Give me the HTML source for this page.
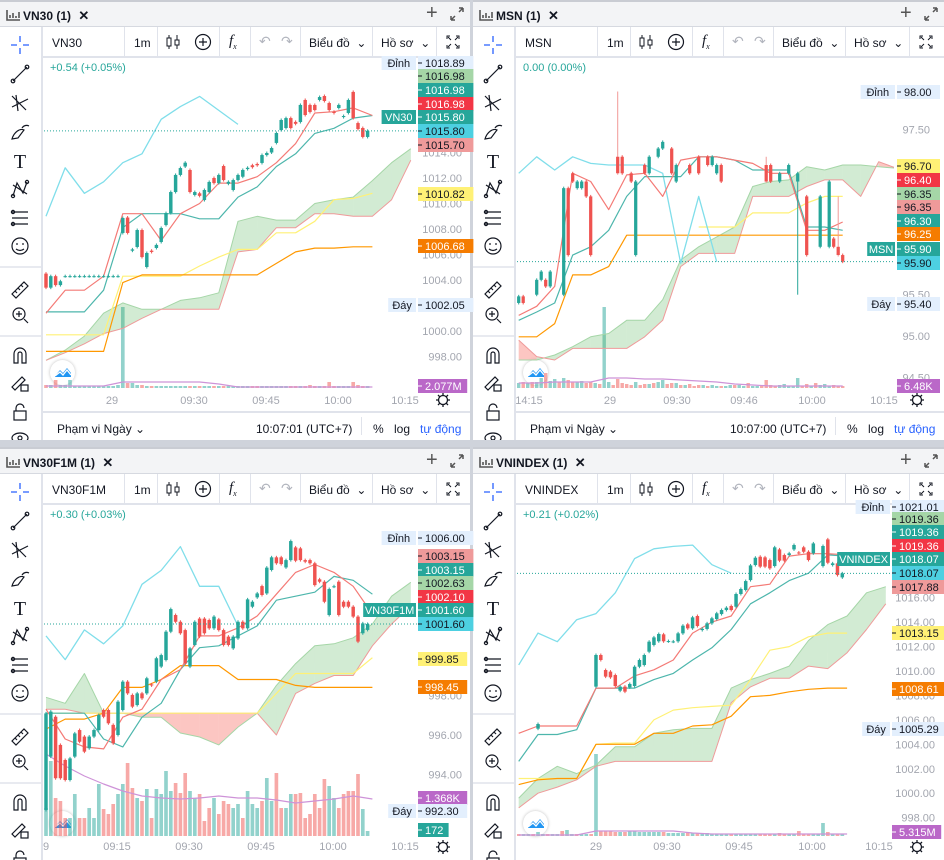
<!DOCTYPE html>
<html><head><meta charset="utf-8">
<style>
*{box-sizing:border-box}
body{margin:0;width:944px;height:860px;background:#cfd3db;position:relative;overflow:hidden;font-family:"Liberation Sans","Noto Sans CJK SC",sans-serif;color:#131722}
.panel{position:absolute;background:#fff;overflow:hidden}
.tb{position:absolute;left:0;top:0;right:0;height:27px;background:#f3f4f6;border-bottom:1px solid #d6d9e0;border-top:2px solid #c9ccd3}
.ttl{position:absolute;left:23px;top:6px;font-size:12px;font-weight:bold;white-space:nowrap}
.ltb{position:absolute;left:0;top:27px;width:43px;bottom:0;border-right:2px solid #e0e3eb}
.top{position:absolute;left:43px;top:27px;right:0;height:31px;border-bottom:2px solid #e0e3eb;font-size:12px}
.top span{position:absolute;top:9px;white-space:nowrap}
.sep{position:absolute;top:0;width:1px;height:30px;background:#e0e3eb}
.foot{position:absolute;left:43px;right:0;top:411px;height:29px;border-top:2px solid #e0e3eb;font-size:12px}
.foot span{position:absolute;top:9px;white-space:nowrap}
#charts{position:absolute;left:0;top:0}
</style></head><body>
<svg id="charts" width="944" height="860"></svg>
<script>
// ===================== DATA =====================
// VN30 (1m candles)
const vn30Open=[1004.5,1003.4,1004.3,1003.6,1004.3,1004.3,1004.3,1004.3,1004.3,1004.3,1004.3,1004.3,1004.3,1004.3,1004.3,1004.3,
1007.69,1008.9,1006.3,1006.59,1007.92,1005.02,1006.3,1006.51,1006.98,1008.31,1009.25,1010.9,1012.24,1012.9,1012.63,1010.67,1010.8,1010.27,1010.9,1012.0,1011.6,1012.94,1011.55,1011.06,1011.84,1012.1,1012.7,1013.0,1013.1,1013.18,1013.8,1014.0,1014.75,1015.76,1015.92,1016.7,1016.4,1016.39,1018.12,1017.73,1017.73,1018.12,1018.43,1017.88,1017.2,1017.49,1016.78,1017.1,1018.75,1016.31,1015.92,1015.22];
const vn30Close=[1003.4,1004.3,1003.6,1003.9,1004.3,1004.3,1004.3,1004.3,1004.3,1004.3,1004.3,1004.3,1004.3,1004.3,1004.3,1004.3,
1008.86,1007.69,1006.4,1007.92,1005.8,1006.12,1006.2,1006.75,1008.08,1009.25,1010.9,1012.24,1012.78,1013.2,1010.9,1010.9,1010.6,1011.06,1011.69,1011.6,1012.24,1011.84,1011.7,1011.84,1012.24,1012.63,1012.8,1012.85,1013.0,1013.8,1013.96,1014.35,1015.53,1016.55,1016.7,1015.92,1016.25,1017.73,1016.94,1017.18,1017.33,1018.35,1018.04,1017.33,1017.1,1017.73,1016.86,1018.12,1016.7,1015.84,1015.22,1015.7];
const vn30Vol=[3,3,8,3,3,8,2,2,2,2,2,2,2,2,2,3,81,5,5,3,3,2,2,2,2,2,2,2,2,2,2,2,2,2,2,2,2,2,2,2,2,2,2,2,2,2,2,2,2,2,2,2,2,2,2,3,2,2,2,6,2,2,2,2,6,3,2,2];
const vn30VolMA=[2,2,2,2,6,6,6,6,6,4,1,1,1,1,1,1,1,1];
const vn30Tenkan=[1001.4,1003.2,1003.2,1004.3,1009.2,1009.2,1007.1,1009.2,1010.0,1011.6,1011.6,1012.1,1013.2,1014.7,1017.1,1017.2,1017.5,1016.9];
const vn30Kijun=[1001.5,1001.5,1001.5,1003.2,1008.1,1009.2,1009.2,1009.2,1008.8,1008.8,1010.5,1011.3,1012.9,1013.9,1015.5,1015.9,1016.7,1016.9];
const vn30Chikou=[1009.0,1012.8,1010.8,1011.7,1013.2,1013.9,1016.6,1017.6,1018.4,1017.3,1016.2];
const vn30SpanA=[997.7,998.5,999.6,1001.4,1002.2,1001.7,1001.7,1002.4,1002.6,1003.0,1008.6,1009.0,1008.7,1008.7,1010.0,1010.3,1010.5,1011.8,1013.2,1014.3];
const vn30SpanB=[997.7,998.3,999.0,999.8,1000.2,1001.0,1001.7,1001.7,1001.7,1001.7,1006.2,1006.4,1008.1,1008.1,1009.2,1009.2,1009.0,1009.0,1010.3,1013.4];
const vn30Yellow=[999.7,999.7,999.7,999.7,1004.3,1004.3,1004.3,1004.3,1005.1,1005.8,1006.4,1006.4,1007.7,1007.7,1008.6,1010.3,1010.4,1010.8];
const vn30Orange=[998.4,998.4,998.4,998.4,1003.8,1004.4,1004.4,1004.4,1004.4,1004.4,1004.4,1004.4,1005.3,1006.2,1006.5,1006.5,1006.6,1006.6];
const vn30Ticks=[1014,1012,1010,1008,1006,1004,1000,998];
const vn30TimeLabels=['29','09:30','09:45','10:00','10:15'];

// MSN
const msnIdx=[0,1,4,5,6,7,10,11,12,13,14,15,16,22,23,25,26,28,29,31,32,34,35,38,40,42,43,44,45,55,56,58,60,62,64,67,69,70,71,72];
const msnOpen=[95.40,95.48,95.50,95.68,95.68,95.60,95.50,96.79,96.97,96.79,96.79,96.87,96.69,97.17,97.17,96.97,95.98,97.07,96.97,97.17,97.27,97.27,96.87,97.07,97.17,97.17,97.07,96.97,97.07,97.07,97.07,96.87,96.97,96.87,96.69,96.08,96.08,96.18,96.08,95.98];
const msnClose=[95.48,95.40,95.68,95.78,95.60,95.78,96.79,95.98,96.87,96.87,96.87,96.69,95.98,96.97,96.97,96.87,96.87,96.97,97.17,97.27,97.35,96.97,97.07,96.97,96.97,97.07,97.17,97.07,96.87,96.87,96.87,96.97,97.07,96.97,95.98,96.69,96.87,96.08,95.98,95.90];
const msnHigh=[null,null,null,null,null,null,null,null,null,null,null,null,null,97.96,null,null,null,null,null,null,null,null,null,null,null,null,null,null,null,97.17,null,null,null,null,null,null,null,null,96.69,null];
const msnLow=[null,null,null,null,null,null,null,null,null,null,null,null,null,null,null,null,null,null,null,null,null,null,null,null,null,null,null,null,null,null,null,null,null,95.50,null,null,null,null,null,null];
const msnVol=[5,6,5,6,6,10,15,7,9,6,10,8,6,6,7,5,6,5,4,81,6,3,9,5,4,3,6,3,4,4,5,6,8,4,5,5,3,3,4,2,3,3,2,3,2,2,2,3,3,3,2,5,2,2,3,8,3,2,3,4,2,2,10,2,4,2,5,3,4,2,3,2,2];
const msnVolMA=[5,5,6,6,6,10,10,9,9,8,7,6,4,3,2,2,2,2,2];
const msnTenkan=[95.25,95.36,95.60,96.97,96.87,96.53,96.95,96.97,96.69,97.13,97.17,97.17,97.13,97.09,96.97,96.97,96.28,96.28,96.38];
const msnKijun=[95.19,95.29,95.40,95.98,96.08,96.28,96.69,96.93,96.93,96.93,97.17,97.17,97.13,97.01,97.01,97.01,96.32,96.32,96.28];
const msnChikou=[96.97,97.17,97.01,97.17,97.09,97.07,97.07,97.07,96.97,95.88,96.69,95.90];
const msnSpanA=[94.71,94.71,94.77,94.87,94.99,95.03,95.19,95.19,95.44,95.92,96.08,96.20,96.32,96.81,96.87,96.89,97.05,97.01,97.07,97.07,97.05,97.03];
const msnSpanB=[94.95,94.75,94.71,94.85,94.85,94.85,94.85,94.99,95.19,95.84,96.00,96.00,96.00,96.69,96.69,96.69,96.81,96.89,96.89,96.69,97.11,97.03];
const msnYellow=[null,null,null,null,null,null,null,null,null,null,96.32,96.32,96.32,96.49,96.49,96.49,96.61,96.69,96.69];
const msnOrange=[94.99,94.99,95.15,95.74,95.74,95.84,96.22,96.22,96.22,96.22,96.22,96.22,96.22,96.22,96.22,96.22,96.22,96.22,96.22];
const msnTicks=[97.5,95.5,95.0,94.5];
const msnTimeLabels=['14:15','29','09:30','09:46','10:00','10:15'];

// VN30F1M
const f1mOpen=[992.22,994.91,996.92,995.50,994.74,993.73,994.91,996.25,995.92,995.33,995.92,996.25,997.26,997.26,996.51,996.00,997.26,998.69,998.02,997.51,998.10,998.10,998.55,998.69,999.45,999.78,1001.21,1002.05,1001.71,1001.29,999.45,1000.54,1001.87,1001.87,1001.80,1001.38,1001.83,1001.29,1000.96,1000.37,1000.87,1001.71,1001.38,1002.47,1002.94,1003.51,1003.14,1004.32,1004.96,1004.96,1004.45,1004.82,1005.46,1005.41,1004.82,1004.82,1004.66,1003.85,1003.73,1002.05,1003.48,1003.73,1002.72,1002.72,1002.47,1001.97,1001.13,1001.30];
const f1mClose=[997.09,997.18,993.82,993.82,993.73,994.82,996.08,995.66,995.16,995.92,996.25,997.01,996.92,996.59,995.58,997.68,998.69,998.10,997.43,998.10,997.85,998.86,998.50,999.87,1000.03,1001.21,1002.35,1001.71,1001.13,999.61,1000.37,1001.71,1000.96,1001.13,1001.38,1001.97,1001.29,1000.54,1000.54,1000.96,1001.71,1001.38,1002.84,1002.72,1003.14,1003.06,1004.44,1004.96,1004.66,1004.62,1004.82,1005.78,1004.79,1004.82,1004.74,1004.66,1003.56,1003.73,1002.72,1003.36,1003.50,1002.05,1002.47,1002.47,1001.97,1000.71,1001.63,1001.60];
const f1mVol=[28,75,38,35,18,18,42,18,18,28,18,52,27,22,32,42,52,73,48,38,35,47,18,47,42,65,45,53,43,63,45,38,42,15,28,38,22,35,32,28,32,18,45,32,28,35,58,35,63,28,28,42,42,43,18,22,42,28,57,50,38,28,42,45,45,62,27,5];
const f1mVolMA=[82,70,60,52,45,40,38,37,38,40,38,38,36,33,35,37,40,37];
const f1mTenkan=[997.3,995.8,995.4,995.3,996.9,997.3,998.8,999.3,1001.0,1001.0,1001.4,1002.0,1003.1,1004.2,1004.6,1004.2,1003.5,1002.1];
const f1mKijun=[997.1,997.1,997.1,995.8,995.4,996.9,997.6,999.3,1000.4,1000.5,1001.0,1001.5,1002.8,1003.0,1003.2,1004.0,1003.8,1003.1];
const f1mChikou=[1001.0,999.8,1001.3,1000.6,1001.5,1003.6,1004.3,1005.5,1003.5,1003.5,1001.5];
const f1mSpanA=[997.9,997.6,999.1,997.1,997.1,996.9,996.9,996.1,995.9,995.5,996.4,997.1,998.5,999.6,1000.5,1000.6,1000.9,1001.6,1003.0,1003.7];
const f1mSpanB=[997.3,997.3,997.1,997.1,997.1,997.1,997.1,997.1,997.1,997.1,997.1,997.1,996.0,998.1,998.6,999.0,999.0,1000.5,1001.6,1002.5];
const f1mYellow=[997.1,997.1,997.1,997.1,997.1,997.1,997.1,997.1,997.1,997.1,997.1,997.1,998.1,999.1,999.1,999.1,999.1,999.9];
const f1mOrange=[996.3,996.8,996.8,997.1,998.4,998.4,998.8,999.5,999.5,999.5,998.8,998.8,998.8,998.5,998.4,998.4,998.4,998.4];
const f1mTicks=[1000,998,996,994];
const f1mTimeLabels=['9','09:15','09:30','09:45','10:00','10:15'];

// VNINDEX
const vniIdx=[4,16,17,18,19,20,21,22,23,24,25,26,27,28,29,30,31,32,33,34,35,36,37,38,39,40,41,42,43,44,45,46,47,48,49,50,51,52,53,54,55,56,57,58,59,60,61,63,64,65,66,67];
const vniOpen=[1005.28,1008.72,1011.31,1010.08,1009.95,1009.67,1008.39,1008.72,1008.66,1008.77,1010.35,1010.49,1011.58,1012.13,1012.43,1013.00,1012.43,1012.40,1012.43,1013.08,1013.82,1013.49,1014.50,1013.35,1013.44,1013.90,1014.25,1014.66,1014.99,1015.32,1015.26,1016.30,1016.63,1017.44,1018.67,1019.35,1019.30,1019.08,1018.59,1019.95,1019.49,1019.49,1019.95,1019.70,1020.12,1019.76,1019.63,1018.59,1020.77,1018.67,1018.81,1017.66];
const vniClose=[1005.66,1011.31,1010.90,1009.54,1009.48,1008.77,1008.72,1008.31,1008.94,1010.35,1010.90,1011.31,1012.40,1012.75,1013.03,1012.43,1012.45,1012.42,1013.08,1013.71,1013.49,1014.39,1013.68,1013.45,1013.90,1014.31,1014.72,1014.99,1015.18,1014.99,1016.30,1016.71,1017.36,1018.64,1019.27,1018.54,1018.54,1018.40,1020.12,1019.03,1019.03,1019.63,1020.31,1019.66,1019.76,1019.08,1020.44,1020.23,1018.86,1018.81,1017.85,1017.99];
const vniVol=[2,2,2,2,4,2,2,2,2,5,6,2,2,2,2,2,82,5,5,5,4,4,4,5,5,4,4,4,4,4,4,3,3,3,3,3,3,3,3,3,2,2,2,2,2,2,2,2,2,2,2,2,2,2,3,2,2,2,5,2,2,2,2,13,4,2,2,2];
const vniVolMA=[1,1,1,1,5,5,5,5,5,3,2,2,2,2,2,2,2,2];
const vniTenkan=[1004.9,1005.5,1005.5,1005.5,1008.6,1008.6,1009.6,1010.1,1010.9,1013.1,1014.0,1014.5,1016.9,1017.1,1019.4,1019.6,1019.6,1019.5];
const vniKijun=[1002.6,1004.8,1004.8,1005.2,1008.6,1008.6,1008.6,1009.3,1009.8,1010.9,1011.9,1013.4,1015.5,1016.4,1017.4,1018.0,1019.5,1019.4];
const vniChikou=[1010.5,1013.1,1012.4,1014.2,1014.7,1016.4,1019.2,1020.0,1020.2,1020.3,1018.7,1018.0];
const vniSpanA=[999.6,1001.2,1002.2,1001.6,1002.3,1003.8,1003.8,1004.9,1005.2,1005.3,1005.3,1008.6,1009.3,1009.8,1010.4,1012.5,1013.8,1014.5,1016.4,1016.9];
const vniSpanB=[998.8,1000.0,1000.5,1001.1,1002.2,1002.6,1002.6,1002.6,1002.6,1002.6,1002.6,1007.4,1008.7,1009.4,1009.4,1010.4,1010.2,1011.5,1013.4,1015.5];
const vniYellow=[1001.2,1001.2,1001.2,1001.2,1004.0,1004.1,1004.1,1006.0,1006.8,1007.0,1007.1,1007.2,1009.3,1011.7,1012.0,1012.8,1013.1,1013.1];
const vniOrange=[1000.7,1001.1,1001.2,1001.2,1004.0,1004.0,1004.0,1004.9,1004.9,1005.5,1005.6,1006.3,1007.9,1008.0,1008.3,1008.5,1008.6,1008.6];
const vniTicks=[1016,1014,1012,1010,1008,1006,1004,1002,1000,998];
const vniTimeLabels=['29','09:30','09:45','10:00','10:15'];

// ===================== CHROME =====================
function chrome(L,T,W,H,sym,chg,footer,clock){
  const d=document.createElement('div');
  d.className='panel';
  d.style.cssText='left:'+L+'px;top:'+T+'px;width:'+W+'px;height:'+H+'px';
  
  
  const ic=(y,inner)=>'<g transform="translate(20,'+y+')">'+inner+'</g>';
  const st='stroke="#131722" stroke-width="1.2" fill="none"';
  d.innerHTML=
  '<div class="tb">'+
   '<svg style="position:absolute;left:6px;top:7px" width="15" height="12"><path d="M1 1V11H14M4 9V6M7 9V4M10 9V7M13 9V3" stroke="#555" stroke-width="1.6" fill="none"/></svg>'+
   '<div class="ttl">'+sym+' (1) <span style="margin-left:4px;font-size:13px">✕</span></div>'+
   '<div style="position:absolute;left:'+(W-44)+'px;top:0px;font-size:20px;color:#555">+</div>'+
   '<svg style="position:absolute;left:'+(W-20)+'px;top:5px" width="14" height="14"><path d="M1 13L5 9M1 13V9M1 13H5M13 1L9 5M13 1H9M13 1V5" stroke="#555" stroke-width="1.5" fill="none"/></svg>'+
  '</div>'+
  '<div class="ltb"><svg width="41" height="'+(H-27)+'">'+
   ic(18,'<path d="M0 -9V-3M0 3V9M-9 0H-3M3 0H9" stroke="#2962ff" stroke-width="1.3"/>')+
   ic(47,'<path d="M-7 7L7 -7" '+st+'/><circle cx="-7" cy="7" r="1.8" '+st+' fill="#fff"/><circle cx="7" cy="-7" r="1.8" '+st+' fill="#fff"/>')+
   ic(76,'<path d="M-8 -7L6 7M-8 4L8 -4M-4 -8L-2 8" '+st+'/>')+
   ic(105,'<path d="M-8 7C-6 0 0 -4 4 -2L-2 6Z M2 -4C4 -7 7 -7 9 -6" '+st+'/>')+
   ic(134,'<text x="0" y="7" text-anchor="middle" font-size="20" font-family="Liberation Serif" fill="#131722">T</text>')+
   ic(162,'<path d="M-7 7L-3 -6L3 4L7 -7M-7 -4L7 5" '+st+'/><circle cx="-7" cy="7" r="1.6" '+st+'/><circle cx="7" cy="-7" r="1.6" '+st+'/>')+
   ic(191,'<path d="M-8 -6H8M-8 0H8M-8 6H8" '+st+'/><circle cx="-7" cy="-6" r="1.6" '+st+' fill="#fff"/><circle cx="-7" cy="6" r="1.6" '+st+' fill="#fff"/>')+
   ic(219,'<circle r="8" '+st+'/><circle cx="-3" cy="-2" r="0.9" fill="#131722"/><circle cx="3" cy="-2" r="0.9" fill="#131722"/><path d="M-4 3Q0 6 4 3" '+st+'/>')+
   '<line x1="0" y1="240" x2="41" y2="240" stroke="#e0e3eb" stroke-width="1.5"/>'+
   ic(263,'<path d="M-8 4L4 -8L8 -4L-4 8Z M-5 1L-3 3M-2 -2L0 0M1 -5L3 -3" '+st+'/>')+
   ic(288,'<circle cx="-1" cy="-1" r="6" '+st+'/><path d="M4 4L8 8M-4 -1H2M-1 -4V2" '+st+'/>')+
   '<line x1="0" y1="309" x2="41" y2="309" stroke="#e0e3eb" stroke-width="1.5"/>'+
   ic(328,'<path d="M-6 8V-1A6 6 0 0 1 6 -1V8H2V-1A2 2 0 0 0 -2 -1V8Z" '+st+'/>')+
   ic(356,'<path d="M-8 4L2 -6L5 -3L-5 7Z" '+st+'/><rect x="1" y="2" width="7" height="6" '+st+'/>')+
   ic(385,'<rect x="-6" y="-1" width="12" height="9" '+st+'/><path d="M-4 -1V-4A4 4 0 0 1 4 -4" '+st+'/>')+
   ic(411,'<ellipse rx="8" ry="5" '+st+'/><circle r="2" '+st+'/>')+
  '</svg></div>'+
  '<div class="top">'+
   '<span style="left:9px;font-weight:500">'+sym+'</span>'+
   '<div class="sep" style="left:81px"></div>'+
   '<span style="left:91px">1m</span>'+
   '<div class="sep" style="left:114px"></div>'+
   '<svg style="position:absolute;left:123px;top:7px" width="14" height="16"><path d="M3 1V15M11 1V15" stroke="#131722"/><rect x="1" y="4" width="4" height="8" fill="#fff" stroke="#131722"/><rect x="9" y="6" width="4" height="5" fill="#fff" stroke="#131722"/></svg>'+
   '<svg style="position:absolute;left:151px;top:6px" width="18" height="18"><circle cx="9" cy="9" r="7.5" fill="none" stroke="#131722" stroke-width="1.2"/><path d="M9 5V13M5 9H13" stroke="#131722" stroke-width="1.2"/></svg>'+
   '<div class="sep" style="left:176px"></div>'+
   '<span style="left:186px;top:6px;font-family:Liberation Serif;font-style:italic;font-size:15px">f<sub style="font-size:8px">x</sub></span>'+
   '<div class="sep" style="left:207px"></div>'+
   '<span style="left:216px;color:#b2b5be;font-size:14px;top:6px">↶</span>'+
   '<span style="left:238px;color:#b2b5be;font-size:14px;top:6px">↷</span>'+
   '<div class="sep" style="left:257px"></div>'+
   '<span style="left:266px">Biểu đồ &nbsp;⌄</span>'+
   '<div class="sep" style="left:329px"></div>'+
   '<span style="left:338px">Hồ sơ &nbsp;⌄</span>'+
   '<div class="sep" style="left:393px"></div>'+
   '<svg style="position:absolute;left:403px;top:8px" width="14" height="14"><path d="M1 4V1H4M10 1H13V4M13 10V13H10M4 13H1V10M2 2L5 5M12 2L9 5M12 12L9 9M2 12L5 9" stroke="#131722" fill="none"/></svg>'+
  '</div>'+
  '<div style="position:absolute;left:50px;top:62px;font-size:11px;color:#26a69a">'+chg+'</div>'+
  '<svg style="position:absolute;left:'+(W-35)+'px;top:392px" width="16" height="16"><circle cx="8" cy="8" r="4.5" fill="none" stroke="#131722" stroke-width="1.3"/><path d="M8 1V3.5M8 12.5V15M1 8H3.5M12.5 8H15M3 3L4.8 4.8M11.2 11.2L13 13M13 3L11.2 4.8M4.8 11.2L3 13" stroke="#131722" stroke-width="1.3"/></svg>'+
  '<div style="position:absolute;left:50px;top:'+(H===440?360:364)+'px;width:25px;height:25px;border-radius:50%;background:#fff;box-shadow:0 0 3px rgba(0,0,0,0.25)"><svg width="25" height="25"><path d="M5 16L10 10L13 13L17 8L21 13V17H5Z" fill="#2196f3"/><path d="M5 16L10 12L13 15L17 10L21 15" stroke="#fff" stroke-width="1.3" fill="none"/></svg></div>'+
  (footer?'<div class="foot">'+
   '<span style="left:14px">Phạm vi Ngày ⌄</span>'+
   '<span style="left:'+(W-257)+'px">'+clock+'</span>'+
   '<div style="position:absolute;left:'+(W-152)+'px;top:4px;width:1px;height:18px;background:#e0e3eb"></div>'+
   '<span style="left:'+(W-140)+'px">%</span>'+
   '<span style="left:'+(W-119)+'px">log</span>'+
   '<span style="left:'+(W-93)+'px;color:#2962ff">tự động</span>'+
  '</div>':'');
  document.body.insertBefore(d,document.getElementById('charts'));
}
chrome(0,0,470,440,'VN30','+0.54 (+0.05%)',true,'10:07:01 (UTC+7)');
chrome(473,0,471,440,'MSN','0.00 (0.00%)',true,'10:07:00 (UTC+7)');
chrome(0,447,470,413,'VN30F1M','+0.30 (+0.03%)',false,'');
chrome(473,447,471,413,'VNINDEX','+0.21 (+0.02%)',false,'');

// ===================== CHARTS =====================
const NS='http://www.w3.org/2000/svg';
const svg=document.getElementById('charts');
function mk(tag,attrs,parent){const e=document.createElementNS(NS,tag);for(const k in attrs)e.setAttribute(k,attrs[k]);(parent||svg).appendChild(e);return e;}
const TEAL='#26a69a',RED='#ef5350';

function drawPanel(cfg,d){
  const g=mk('g',{});
  
  
  const cp=mk('clipPath',{id:cfg.name+'-clip'},g);
  mk('rect',{x:cfg.clip[0],y:cfg.clip[1],width:cfg.clip[2],height:cfg.clip[3]},cp);
  const p=mk('g',{'clip-path':'url(#'+cfg.name+'-clip)'},g);
  const X=i=>cfg.x0+i*cfg.dx;
  const Y=v=>cfg.yRefPx-(v-cfg.yRef)*cfg.ppu;
  const LX=k=>X(k*4);
  d.ticks.forEach(t=>{
    const tx=mk('text',{x:cfg.tickX,y:Y(t)+4,'text-anchor':'end','font-size':11,fill:'#a3a6af'},g);
    tx.textContent=t.toFixed(2);
    
    
  });
  const idxOf=n=>d.idx?d.idx:[...Array(n).keys()];
  const cIdx=idxOf(d.open.length);
  const colorAt={};
  cIdx.forEach((ix,j)=>{colorAt[ix]=d.close[j]>=d.open[j];});
  d.vol.forEach((v,i)=>{
    const up=colorAt[i]!==undefined?colorAt[i]:(i%3!==0);
    const h=v*cfg.volScale;
    const r=mk('rect',{x:X(i)-cfg.dx*0.38,y:cfg.volBase-h,width:cfg.dx*0.76,height:h,fill:up?'rgba(38,166,154,0.5)':'rgba(239,83,80,0.5)'},p);
    
    
  });
  const line=(arr,scaleFn,color,w,name)=>{
    let pts=[];
    const segs=[];
    arr.forEach((v,k)=>{if(v===null){if(pts.length)segs.push(pts);pts=[];}else pts.push(LX(k).toFixed(1)+','+scaleFn(v).toFixed(1));});
    if(pts.length)segs.push(pts);
    segs.forEach(s=>{
      const pl=mk('polyline',{points:s.join(' '),fill:'none',stroke:color,'stroke-width':w,'stroke-linejoin':'round'},p);
      
      
    });
  };
  line(d.volMA,v=>cfg.volBase-v*cfg.volScale,'#ce93d8',1.2,'volume-ma-line');
  for(let k=0;k<d.spanA.length-1;k++){
    const a0=d.spanA[k],a1=d.spanA[k+1],b0=d.spanB[k],b1=d.spanB[k+1];
    const up=(a0+a1)>=(b0+b1);
    const poly=mk('polygon',{points:[LX(k),Y(a0),LX(k+1),Y(a1),LX(k+1),Y(b1),LX(k),Y(b0)].map(n=>n.toFixed(1)).join(' '),fill:up?'rgba(76,175,80,0.25)':'rgba(244,67,54,0.3)'},p);
    
    
  }
  line(d.spanA,Y,'#a5d6a7',1,'senkou-span-a');
  line(d.spanB,Y,'#ef9a9a',1,'senkou-span-b');
  line(d.yellow,Y,'#fff176',1.2,'yellow-ma-line');
  line(d.orange,Y,'#ff9800',1.2,'orange-ma-line');
  line(d.chikou,Y,'#80deea',1.3,'chikou-span');
  line(d.kijun,Y,'#4db6ac',1.2,'kijun-sen');
  line(d.tenkan,Y,'#f47a76',1.2,'tenkan-sen');
  cIdx.forEach((ix,j)=>{
    const o=d.open[j],c=d.close[j];
    const up=c>=o;
    const col=up?TEAL:RED;
    const top=Y(Math.max(o,c)),bot=Y(Math.min(o,c));
    const hi=d.high&&d.high[j]!==null?Y(d.high[j]):top-1.5;
    const lo=d.low&&d.low[j]!==null?Y(d.low[j]):bot+1.5;
    const wk=mk('line',{x1:X(ix),x2:X(ix),y1:hi,y2:lo,stroke:d.high&&d.high[j]!==null?'#f19a97':col,'stroke-width':1},p);
    
    
    const b=mk('rect',{x:X(ix)-cfg.dx*0.36,y:top,width:cfg.dx*0.72,height:Math.max(1,bot-top),fill:col},p);
    
    
  });
  const lp=Y(d.close[d.close.length-1]);
  const pl=mk('line',{x1:cfg.clip[0],x2:cfg.clip[0]+cfg.clip[2],y1:lp,y2:lp,stroke:'#26a69a','stroke-width':1,'stroke-dasharray':'1 2'},g);
  
  
  d.timeLabels.forEach((t,i)=>{
    const tx=mk('text',{x:cfg.timeX[i],y:cfg.timeY,'text-anchor':'middle','font-size':11,fill:'#a3a6af'},g);
    tx.textContent=t;
    
    
  });
  cfg.labels.forEach(l=>{
    const [y,txt,bg,fg,tag,tagBg]=l;
    const w=txt.length*6.2+12;
    const x=cfg.axisX;
    const r=mk('rect',{x:x,y:y-7,width:w,height:14,fill:bg},g);
    
    
    mk('line',{x1:x,x2:x+4,y1:y,y2:y,stroke:fg,'stroke-width':1},g);
    const t=mk('text',{x:x+7,y:y+4,'font-size':11,fill:fg},g);
    t.textContent=txt;
    if(tag){
      const tw=tag.length*(tag.length>4?6.4:6.6)+8;
      const tr=mk('rect',{x:x-tw-2,y:y-7,width:tw,height:14,fill:tagBg||bg},g);
      
      
      const tt=mk('text',{x:x-tw/2-2,y:y+4,'font-size':11,'text-anchor':'middle',fill:tagBg?'#fff':fg},g);
      tt.textContent=tag;
    }
  });
}
const LB='#e3effd',LG='#a5d6a7',PK='#ef9a9a',CY='#4dd0e1',YL='#fff176',OR='#f57c00',PU='#ba68c8',RD='#f23645',DK='#131722',WH='#fff';

drawPanel({name:'vn30-chart',clip:[44,58,374,332],x0:46,dx:4.8,yRef:1012,yRefPx:178,ppu:12.75,volBase:388,volScale:1,tickX:462,axisX:418,timeY:404,timeX:[112,194,266,338,405],
 labels:[[63,'1018.89',LB,DK,'Đỉnh'],[76,'1016.98',LG,DK],[90,'1016.98',TEAL,WH],[104,'1016.98',RD,WH],[117,'1015.80',TEAL,WH,'VN30',TEAL],[131,'1015.80',CY,DK],[145,'1015.70',PK,DK],[194,'1010.82',YL,DK],[246,'1006.68',OR,WH],[305,'1002.05',LB,DK,'Đáy'],[386,'2.077M',PU,WH]]},
 {open:vn30Open,close:vn30Close,vol:vn30Vol,volMA:vn30VolMA,tenkan:vn30Tenkan,kijun:vn30Kijun,chikou:vn30Chikou,spanA:vn30SpanA,spanB:vn30SpanB,yellow:vn30Yellow,orange:vn30Orange,ticks:vn30Ticks,timeLabels:vn30TimeLabels});

drawPanel({name:'msn-chart',clip:[517,58,377,332],x0:518.7,dx:4.5,yRef:95,yRefPx:336,ppu:82.6,volBase:388,volScale:1,tickX:930,axisX:897,timeY:404,timeX:[529,610,677,744,812,884],
 labels:[[92,'98.00',LB,DK,'Đỉnh'],[166,'96.70',YL,DK],[180,'96.40',RD,WH],[194,'96.35',LG,DK],[207,'96.35',PK,DK],[221,'96.30',TEAL,WH],[234,'96.25',OR,WH],[249,'95.90',TEAL,WH,'MSN',TEAL],[263,'95.90',CY,DK],[304,'95.40',LB,DK,'Đáy'],[386,'6.48K',PU,WH]]},
 {idx:msnIdx,open:msnOpen,close:msnClose,high:msnHigh,low:msnLow,vol:msnVol,volMA:msnVolMA,tenkan:msnTenkan,kijun:msnKijun,chikou:msnChikou,spanA:msnSpanA,spanB:msnSpanB,yellow:msnYellow,orange:msnOrange,ticks:msnTicks,timeLabels:msnTimeLabels});

drawPanel({name:'vn30f1m-chart',clip:[44,505,374,332],x0:46,dx:4.8,yRef:996,yRefPx:735,ppu:19.83,volBase:836,volScale:1,tickX:462,axisX:418,timeY:850,timeX:[46,117,189,261,333,405],
 labels:[[538,'1006.00',LB,DK,'Đỉnh'],[556,'1003.15',PK,DK],[570,'1003.15',TEAL,WH],[583,'1002.63',LG,DK],[597,'1002.10',RD,WH],[610,'1001.60',TEAL,WH,'VN30F1M',TEAL],[624,'1001.60',CY,DK],[659,'999.85',YL,DK],[687,'998.45',OR,WH],[798,'1.368K',PU,WH],[811,'992.30',LB,DK,'Đáy'],[830,'172',TEAL,WH]]},
 {open:f1mOpen,close:f1mClose,vol:f1mVol,volMA:f1mVolMA,tenkan:f1mTenkan,kijun:f1mKijun,chikou:f1mChikou,spanA:f1mSpanA,spanB:f1mSpanB,yellow:f1mYellow,orange:f1mOrange,ticks:f1mTicks,timeLabels:f1mTimeLabels});

drawPanel({name:'vnindex-chart',clip:[517,505,377,332],x0:518.7,dx:4.83,yRef:1010,yRefPx:671,ppu:12.22,volBase:836,volScale:1,tickX:935,axisX:892,timeY:850,timeX:[596,667,739,812,879],
 labels:[[507,'1021.01',LB,DK,'Đỉnh'],[519,'1019.36',LG,DK],[532,'1019.36',TEAL,WH],[546,'1019.36',RD,WH],[559,'1018.07',TEAL,WH,'VNINDEX',TEAL],[573,'1018.07',CY,DK],[587,'1017.88',PK,DK],[633,'1013.15',YL,DK],[689,'1008.61',OR,WH],[729,'1005.29',LB,DK,'Đáy'],[832,'5.315M',PU,WH]]},
 {idx:vniIdx,open:vniOpen,close:vniClose,vol:vniVol,volMA:vniVolMA,tenkan:vniTenkan,kijun:vniKijun,chikou:vniChikou,spanA:vniSpanA,spanB:vniSpanB,yellow:vniYellow,orange:vniOrange,ticks:vniTicks,timeLabels:vniTimeLabels});
</script>
</body></html>
